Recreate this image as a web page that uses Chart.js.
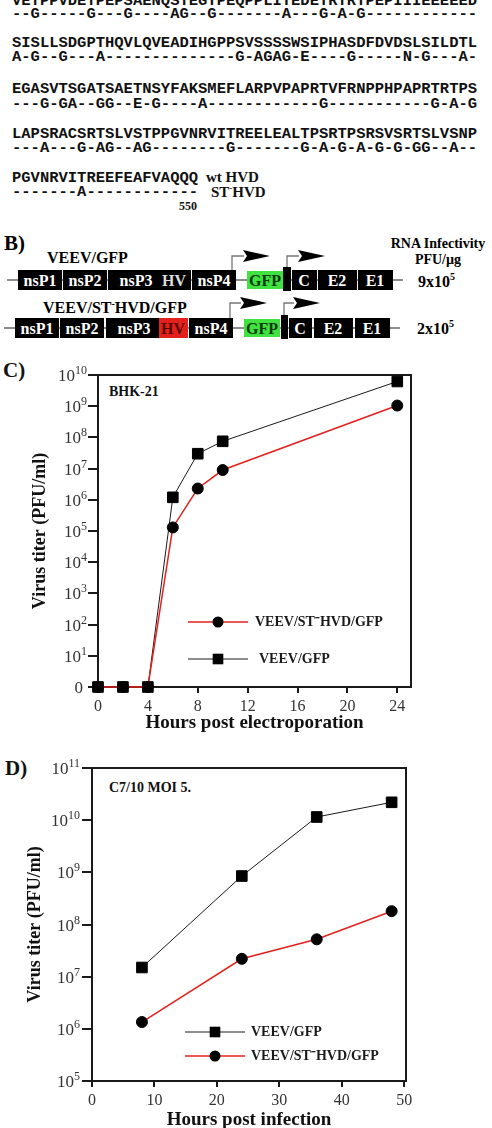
<!DOCTYPE html>
<html>
<head>
<meta charset="utf-8">
<script src="https://cdn.jsdelivr.net/npm/chart.js"></script>
<style>
  body { margin: 0; width: 492px; height: 1128px; position: relative; overflow: hidden; background: #fff; color: #111; font-family: "Liberation Serif", "Times New Roman", serif; }
  .seq { position: absolute; left: 12px; font: bold 15.5px "Liberation Mono", monospace; white-space: pre; line-height: 16px; }
  .lbl { position: absolute; white-space: nowrap; line-height: 1; }
  .panel { font-weight: bold; font-size: 21px; }
  .note { font-weight: bold; font-size: 14px; }
  canvas { position: absolute; left: 0; }
</style>
</head>
<body>

<!-- A) sequence alignment -->
<div class="seq" style="top:-7px">VETPPVDETPEPSAENQSTEGTPEQPPLITEDETRTRTPEPIIIEEEEED</div>
<div class="seq" style="top:6px">--G-----G---G----AG--G-------A---G-A-G------------</div>
<div class="seq" style="top:35px">SISLLSDGPTHQVLQVEADIHGPPSVSSSSWSIPHASDFDVDSLSILDTL</div>
<div class="seq" style="top:49px">A-G--G---A--------------G-AGAG-E----G-----N-G---A-</div>
<div class="seq" style="top:81px">EGASVTSGATSAETNSYFAKSMEFLARPVPAPRTVFRNPPHPAPRTRTPS</div>
<div class="seq" style="top:96px">---G-GA--GG--E-G----A------------G-----------G-A-G</div>
<div class="seq" style="top:126px">LAPSRACSRTSLVSTPPGVNRVITREELEALTPSRTPSRSVSRTSLVSNP</div>
<div class="seq" style="top:140px">---A---G-AG--AG--------G-------G-A-G-A-G-G-GG--A--</div>
<div class="seq" style="top:170px">PGVNRVITREEFEAFVAQQQ</div>
<div class="seq" style="top:184px">-------A------------</div>
<div class="lbl" style="left:206px;top:170px;font-size:15px;font-weight:bold">wt HVD</div>
<div class="lbl" style="left:211px;top:184px;font-size:15px;font-weight:bold">ST<sup style="font-size:9px">-</sup>HVD</div>
<div class="lbl" style="left:179px;top:200px;font-size:12px;font-weight:bold">550</div>

<!-- B) genome schematic -->
<svg style="position:absolute;left:0;top:0" width="492" height="350" font-family="Liberation Serif, serif" font-weight="bold">
  <text x="4" y="250" font-size="21">B)</text>
  <text x="438" y="248" font-size="14" text-anchor="middle">RNA Infectivity</text>
  <text x="438" y="264" font-size="14" text-anchor="middle">PFU/µg</text>
  <text x="47" y="263" font-size="16">VEEV/GFP</text>
  <text x="43" y="313" font-size="16">VEEV/ST<tspan font-size="10" dy="-6">-</tspan><tspan dy="6">HVD/GFP</tspan></text>

  <!-- row 1 -->
  <line x1="7" y1="280" x2="403" y2="280" stroke="#666" stroke-width="1.5"/>
  <g fill="#000">
    <rect x="18" y="270" width="44" height="20"/>
    <rect x="63" y="270" width="44" height="20"/>
    <rect x="108" y="270" width="83" height="20"/>
    <rect x="192" y="270" width="44" height="20"/>
    <rect x="283" y="267" width="8" height="24"/>
    <rect x="292" y="270" width="25" height="20"/>
    <rect x="318" y="270" width="39" height="20"/>
    <rect x="358" y="270" width="35" height="20"/>
  </g>
  <rect x="247" y="271" width="36" height="18" fill="#3fe23f"/>
  <g fill="#fff" font-size="16" text-anchor="middle">
    <text x="40" y="286">nsP1</text>
    <text x="85" y="286">nsP2</text>
    <text x="136" y="286">nsP3</text>
    <text x="174" y="286" fill="#ddd">HV</text>
    <text x="214" y="286">nsP4</text>
    <text x="304" y="286">C</text>
    <text x="337" y="286">E2</text>
    <text x="375" y="286">E1</text>
  </g>
  <text x="265" y="286" font-size="16" text-anchor="middle" fill="#0a3a0a">GFP</text>
  <path d="M232 270 V256 H244 M287 267 V256 H299" stroke="#777" stroke-width="1.3" fill="none"/>
  <path d="M243 250 L270 256 L243 262 L247 256 Z" fill="#000"/>
  <path d="M298 250 L325 256 L298 262 L302 256 Z" fill="#000"/>
  <text x="418" y="287" font-size="16">9x10<tspan font-size="10" dy="-7">5</tspan></text>

  <!-- row 2 -->
  <line x1="4" y1="328" x2="400" y2="328" stroke="#666" stroke-width="1.5"/>
  <g fill="#000">
    <rect x="15" y="318" width="44" height="20"/>
    <rect x="60" y="318" width="44" height="20"/>
    <rect x="106" y="318" width="53" height="20"/>
    <rect x="189" y="318" width="44" height="20"/>
    <rect x="281" y="315" width="7" height="24"/>
    <rect x="289" y="318" width="23" height="20"/>
    <rect x="314" y="318" width="39" height="20"/>
    <rect x="355" y="318" width="35" height="20"/>
  </g>
  <rect x="159" y="318" width="29" height="20" fill="#e3211c"/>
  <rect x="244" y="319" width="36" height="18" fill="#3fe23f"/>
  <g fill="#fff" font-size="16" text-anchor="middle">
    <text x="37" y="334">nsP1</text>
    <text x="82" y="334">nsP2</text>
    <text x="134" y="334">nsP3</text>
    <text x="211" y="334">nsP4</text>
    <text x="300" y="334">C</text>
    <text x="333" y="334">E2</text>
    <text x="372" y="334">E1</text>
  </g>
  <text x="173" y="334" font-size="16" text-anchor="middle" fill="#5a0000">HV</text>
  <text x="262" y="334" font-size="16" text-anchor="middle" fill="#0a3a0a">GFP</text>
  <path d="M230 318 V303 H241 M284 315 V303 H294" stroke="#777" stroke-width="1.3" fill="none"/>
  <path d="M240 297 L267 303 L240 309 L244 303 Z" fill="#000"/>
  <path d="M293 297 L320 303 L293 309 L297 303 Z" fill="#000"/>
  <text x="417" y="334" font-size="16">2x10<tspan font-size="10" dy="-7">5</tspan></text>
</svg>

<!-- C) and D) -->
<div class="lbl panel" style="left:3px;top:360px">C)</div>
<div class="lbl note" style="left:109px;top:385px">BHK-21</div>
<canvas id="chartC" width="440" height="380" style="top:360px"></canvas>

<div class="lbl panel" style="left:5px;top:758px">D)</div>
<div class="lbl note" style="left:109px;top:781px">C7/10 MOI 5.</div>
<canvas id="chartD" width="440" height="390" style="top:750px"></canvas>

<script>
// panel C: BHK-21 electroporation (0 on the plot is drawn at 1)
const hoursC = [0, 2, 4, 6, 8, 10, 24];
const gfpC = [1, 1, 1, 1.2e6, 3e7, 7.5e7, 6.2e9];
const stHvdC = [1, 1, 1, 1.3e5, 2.3e6, 9e6, 1.05e9];
const xTicksC = [0, 4, 8, 12, 16, 20, 24];
const yTicksC = [1, 1e1, 1e2, 1e3, 1e4, 1e5, 1e6, 1e7, 1e8, 1e9, 1e10];

// panel D: C7/10 infection, MOI 5
const hoursD = [8, 24, 36, 48];
const gfpD = [1.5e7, 8.5e8, 1.15e10, 2.2e10];
const stHvdD = [1.35e6, 2.2e7, 5.2e7, 1.8e8];
const xTicksD = [0, 10, 20, 30, 40, 50];
const yTicksD = [1e5, 1e6, 1e7, 1e8, 1e9, 1e10, 1e11];

const labelGfp = "VEEV/GFP";
const labelStHvd = "VEEV/ST\u207BHVD/GFP";

const RED = "#e3211c";
const INK = "#1a1a1a";
const SERIF = "'Liberation Serif', 'Times New Roman', serif";

function powLabel(v) {
    if (v === 1) return "0";
    return "10^" + Math.round(Math.log10(v));
}

// full frame round the plot
const frame = {
    id: "frame",
    beforeDatasetsDraw(chart) {
        const a = chart.chartArea;
        const ctx = chart.ctx;
        ctx.save();
        ctx.strokeStyle = INK;
        ctx.lineWidth = 2;
        ctx.strokeRect(a.left, a.top, a.right - a.left, a.bottom - a.top);
        ctx.restore();
    }
};

// y tick labels as 10 with a raised exponent, placed by the y scale
const powTicks = {
    id: "powTicks",
    afterDraw(chart, args, opts) {
        const s = chart.scales.y;
        const ctx = chart.ctx;
        const right = s.right - opts.gap;
        ctx.save();
        ctx.fillStyle = "#333";
        ctx.textBaseline = "alphabetic";
        ctx.textAlign = "left";
        s.ticks.forEach(t => {
            const y = s.getPixelForValue(t.value) + 6;
            if (t.value === 1) {
                ctx.font = "17px " + SERIF;
                ctx.fillText("0", right - 4 - ctx.measureText("0").width, y);
                return;
            }
            const exp = String(Math.round(Math.log10(t.value)));
            ctx.font = "12px " + SERIF;
            const ew = ctx.measureText(exp).width;
            ctx.font = "17px " + SERIF;
            const bw = ctx.measureText("10").width;
            const x0 = right - ew - bw;
            ctx.fillText("10", x0, y);
            ctx.font = "12px " + SERIF;
            ctx.fillText(exp, x0 + bw, y - 7);
        });
        ctx.restore();
    }
};

// legend drawn inside the plot from the dataset styles
const innerLegend = {
    id: "innerLegend",
    afterDraw(chart, args, opts) {
        const ctx = chart.ctx;
        ctx.save();
        opts.items.forEach(item => {
            const ds = chart.data.datasets[item.index];
            ctx.strokeStyle = ds.borderColor;
            ctx.lineWidth = ds.borderWidth;
            ctx.beginPath();
            ctx.moveTo(item.x, item.y);
            ctx.lineTo(item.x + 60, item.y);
            ctx.stroke();
            const cx = item.x + 30;
            ctx.fillStyle = ds.pointBackgroundColor;
            if (ds.pointStyle === "rect") {
                const s = ds.pointRadius * Math.SQRT1_2;
                ctx.fillRect(cx - s, item.y - s, 2 * s, 2 * s);
            } else {
                ctx.beginPath();
                ctx.arc(cx, item.y, ds.pointRadius, 0, Math.PI * 2);
                ctx.fill();
            }
            ctx.fillStyle = INK;
            ctx.font = "bold 14px " + SERIF;
            ctx.textBaseline = "middle";
            ctx.fillText(ds.label, item.x + item.textGap, item.y);
        });
        ctx.restore();
    }
};

function makeSet(label, xs, ys, color, width, style, radius) {
    return {
        label: label,
        data: xs.map((x, i) => ({ x: x, y: ys[i] })),
        borderColor: color,
        borderWidth: width,
        pointStyle: style,
        pointRadius: radius,
        pointBackgroundColor: "#000",
        pointBorderColor: "#000",
        pointBorderWidth: 1,
        clip: false
    };
}

function makeChart(id, cfg) {
    return new Chart(document.getElementById(id), {
        type: "line",
        data: { datasets: cfg.datasets },
        options: {
            responsive: false,
            animation: false,
            devicePixelRatio: 1,
            layout: { padding: cfg.padding },
            plugins: {
                legend: { display: false },
                tooltip: { enabled: false },
                innerLegend: { items: cfg.legend },
                powTicks: { gap: cfg.tickGap }
            },
            scales: {
                x: {
                    type: "linear",
                    min: cfg.xMin,
                    max: cfg.xMax,
                    afterBuildTicks: s => { s.ticks = cfg.xTicks.map(v => ({ value: v })); },
                    afterFit: s => { s.height = cfg.xHeight; },
                    grid: { drawOnChartArea: false, drawTicks: true, tickLength: 6, color: INK, lineWidth: 2 },
                    border: { color: INK, width: 2 },
                    ticks: { color: "#333", padding: 4, maxRotation: 0, font: { family: SERIF, size: 16 } },
                    title: {
                        display: true,
                        text: cfg.xTitle,
                        color: "#111",
                        padding: { top: 0, bottom: cfg.xTitlePad },
                        font: { family: SERIF, size: 19, weight: "bold" }
                    }
                },
                y: {
                    type: "logarithmic",
                    min: cfg.yMin,
                    max: cfg.yMax,
                    afterBuildTicks: s => { s.ticks = cfg.yTicks.map(v => ({ value: v })); },
                    afterFit: s => { s.width = cfg.yWidth; },
                    grid: { drawOnChartArea: false, drawTicks: true, tickLength: 10, color: INK, lineWidth: 2 },
                    border: { color: INK, width: 2 },
                    // labels are painted by powTicks
                    ticks: { color: "rgba(0,0,0,0)", padding: 2, callback: v => powLabel(v), font: { family: SERIF, size: 17 } },
                    title: {
                        display: true,
                        text: "Virus titer (PFU/ml)",
                        color: "#111",
                        padding: { top: cfg.yTitlePad, bottom: 0 },
                        font: { family: SERIF, size: 18, weight: "bold" }
                    }
                }
            }
        },
        plugins: [frame, powTicks, innerLegend]
    });
}

makeChart("chartC", {
    datasets: [
        makeSet(labelStHvd, hoursC, stHvdC, RED, 1.5, "circle", 5.5),
        makeSet(labelGfp, hoursC, gfpC, INK, 1, "rect", 7.5)
    ],
    padding: { top: 15, right: 29, bottom: 0, left: 0 },
    xMin: 0, xMax: 25.1, xTicks: xTicksC, xHeight: 53, xTitlePad: 6,
    yMin: 1, yMax: 1e10, yTicks: yTicksC, yWidth: 98, yTitlePad: 30, tickGap: 11,
    xTitle: "Hours post electroporation",
    legend: [
        { index: 0, x: 188, y: 262, textGap: 67 },
        { index: 1, x: 188, y: 299, textGap: 71 }
    ]
});

makeChart("chartD", {
    datasets: [
        makeSet(labelStHvd, hoursD, stHvdD, RED, 1.5, "circle", 5.5),
        makeSet(labelGfp, hoursD, gfpD, INK, 1, "rect", 7.5)
    ],
    padding: { top: 18, right: 34, bottom: 0, left: 0 },
    xMin: 0, xMax: 50.3, xTicks: xTicksD, xHeight: 59, xTitlePad: 9,
    yMin: 1e5, yMax: 1e11, yTicks: yTicksD, yWidth: 92, yTitlePad: 25, tickGap: 12,
    xTitle: "Hours post infection",
    legend: [
        { index: 1, x: 185, y: 282, textGap: 66 },
        { index: 0, x: 185, y: 306, textGap: 66 }
    ]
});
</script>
</body>
</html>
